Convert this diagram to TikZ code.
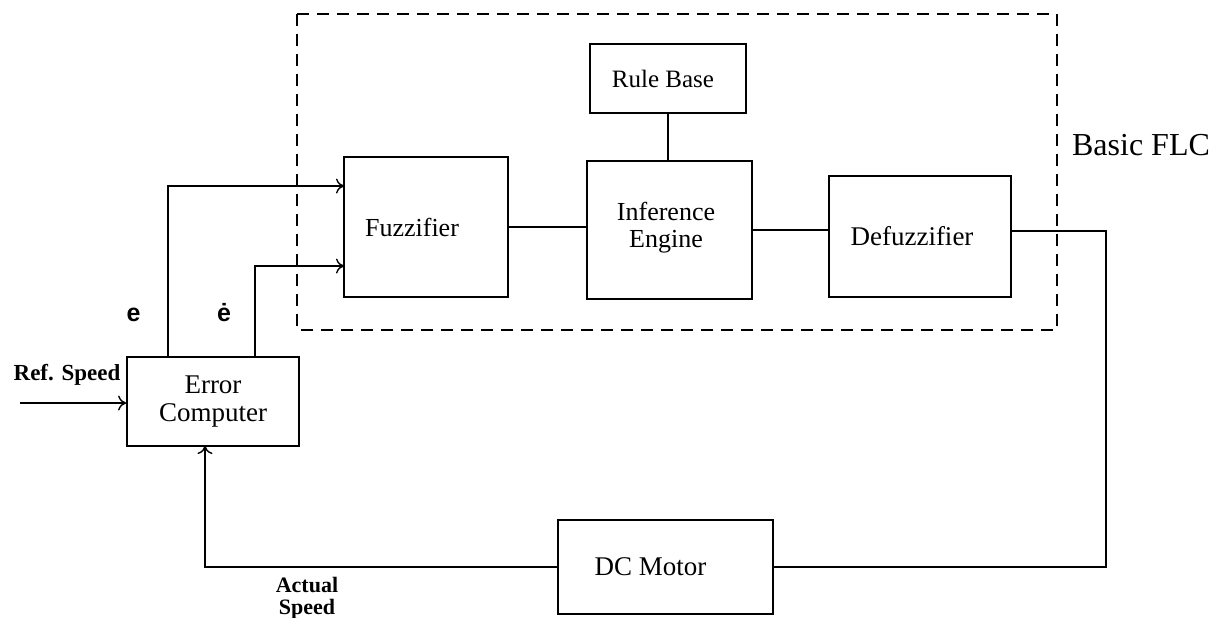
\documentclass[tikz,border=0pt]{standalone}
\usepackage{fontspec}
\setmainfont{Liberation Serif}
\newfontfamily\lblsans{Liberation Sans}
\usetikzlibrary{arrows.meta}
\begin{document}
\begin{tikzpicture}[x=1pt,y=-1pt,
  blk/.style={draw,line width=1.8pt,inner sep=0pt,align=center,font=\fontsize{26}{26}\selectfont},
  wire/.style={line width=1.7pt},
  arr/.style={wire,-{To[length=8pt,width=15pt,line width=1.4pt]}},
  lbl/.style={align=center}]
\useasboundingbox (0,0) rectangle (1227,618);
\draw[line width=1.7pt,dash pattern=on 12pt off 8pt] (297,14) rectangle (1057,330);
\node[blk,minimum width=156pt,minimum height=69pt,font=\fontsize{25}{25}\selectfont] (rb) at (668,78.5) {\raisebox{-4pt}{Rule Base}\hspace*{10pt}};
\node[blk,minimum width=164pt,minimum height=140pt] (fz) at (426,227) {\raisebox{-8pt}{Fuzzifier}\hspace*{28pt}};
\node[blk,minimum width=165pt,minimum height=138pt,font=\fontsize{26}{18}\selectfont] (ie) at (669.5,230) {\raisebox{10pt}{\shortstack{Inference\\[6pt]Engine}}\hspace*{7pt}};
\node[blk,minimum width=182pt,minimum height=121pt,font=\fontsize{27}{27}\selectfont] (df) at (920,236.5) {Defuzzifier\hspace*{16pt}};
\node[blk,minimum width=172pt,minimum height=89pt,font=\fontsize{27}{26}\selectfont] (ec) at (213,401.5) {\raisebox{-2pt}{\shortstack{Error\\[7pt]Computer}}};
\node[blk,minimum width=215pt,minimum height=94pt,font=\fontsize{27}{27}\selectfont] (dc) at (665.5,567) {\raisebox{-3pt}{DC Motor}\hspace*{30pt}};
\node[lbl,font=\fontsize{32}{32}\selectfont] (flc) at (1141,145) {Basic FLC};
\node[lbl,font=\lblsans\bfseries\fontsize{25}{25}\selectfont] (le) at (133.5,315) {e};
\node[lbl,font=\lblsans\bfseries\fontsize{25}{25}\selectfont] (led) at (224,313) {\.{e}};
\node[lbl,font=\bfseries\fontsize{23}{23}\selectfont] (ref) at (67,375) {Ref. Speed};
\node[lbl,font=\bfseries\fontsize{22}{22}\selectfont] (act) at (307,598) {Actual\\Speed};
\coordinate (rin) at (20,403);
\coordinate (t1) at (168,357);
\coordinate (t2) at (255,357);
\coordinate (f1) at (344,186);
\coordinate (f2) at (344,266);
\coordinate (rc) at (1106,231);
\coordinate (ecb) at (205,446);
\draw[arr] (rin) -- (rin -| ec.west);
\draw[arr] (t1) |- (f1);
\draw[arr] (t2) |- (f2);
\draw[wire] (rb.south) -- (rb.south |- ie.north);
\draw[wire] (fz.east) -- (fz.east -| ie.west);
\draw[wire] (ie.east) -- (ie.east -| df.west);
\draw[wire] (df.east |- rc) -- (rc) |- (dc.east);
\draw[arr] (dc.west) -| (ecb);
\end{tikzpicture}
\end{document}
